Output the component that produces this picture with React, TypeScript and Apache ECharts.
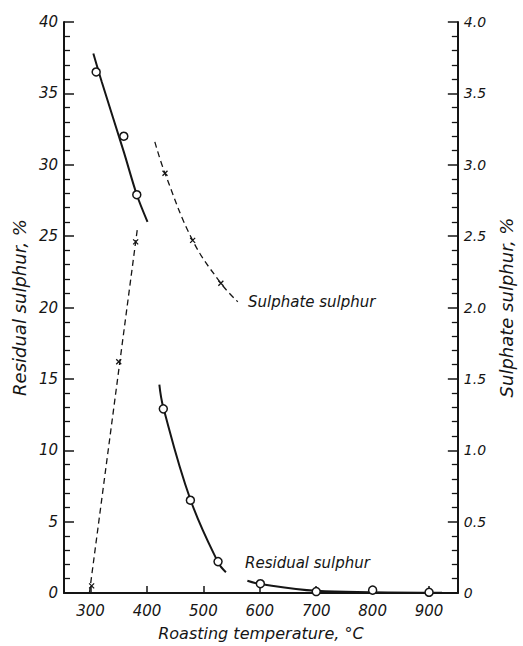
import React, { useEffect, useRef } from "react";
import * as echarts from "echarts";

// Residual sulphur (left axis, %) — fitted curves and measured points
const residualCurve1: number[][] = [[305, 37.8], [320, 35.8], [359, 30.9], [382, 27.9], [401, 26.0]];
const residualCurve2: number[][] = [[422, 14.6], [429, 13.0], [477, 6.55], [526, 2.15], [540, 1.45]];
const residualCurve3: number[][] = [[578, 0.86], [601, 0.63], [700, 0.15], [800, 0.05], [923, 0.02]];
const residualPoints: number[][] = [
  [310, 36.5], [359, 32.0], [382, 27.9],
  [429, 12.9], [477, 6.5], [526, 2.2],
  [601, 0.65], [700, 0.1], [800, 0.2], [900, 0.05],
];

// Sulphate sulphur (right axis, %)
const sulphateCurve1: number[][] = [[298, 0], [383, 2.55]];
const sulphateCurve2: number[][] = [[414, 3.16], [432, 2.94], [481, 2.47], [531, 2.17], [561, 2.04]];
const sulphatePoints: number[][] = [
  [302, 0.05], [350, 1.62], [380, 2.46],
  [432, 2.94], [481, 2.47], [531, 2.17],
];

const xTicks = [300, 400, 500, 600, 700, 800, 900];

const FONT = "DejaVu Sans";
const INK = "#151515";
const TICK = INK;

export default function App() {
  const ref = useRef<HTMLDivElement>(null);
  useEffect(() => {
    if (!ref.current) return;
    const chart = echarts.init(ref.current, null, { renderer: "svg" });
    const solid = { color: INK, width: 2 };
    const dashed = { color: INK, width: 1.3, type: [6, 4] as any };
    const lineSeries = (data: number[][], y: number, ls: any, smooth: boolean | number) => ({
      type: "line",
      data,
      yAxisIndex: y,
      smooth,
      showSymbol: false,
      symbol: "none",
      lineStyle: ls,
      silent: true,
      z: 2,
    });
    const yTick = () => ({ show: true, inside: true, length: 10, lineStyle: { color: TICK, width: 1.5 } });
    const yMinor = () => ({ show: true, splitNumber: 5, length: 6, lineStyle: { color: TICK, width: 1.3 } });
    chart.setOption({
      animation: false,
      backgroundColor: "#ffffff",
      grid: { left: 64, right: 58, top: 22, bottom: 51 },
      xAxis: {
        type: "value",
        min: 253,
        max: 951,
        axisLine: { show: true, lineStyle: { color: INK, width: 2 } },
        axisTick: { show: true, inside: true, length: 7, customValues: xTicks, lineStyle: { color: TICK, width: 1.5 } },
        axisLabel: {
          customValues: xTicks,
          fontFamily: FONT,
          fontStyle: "italic",
          fontSize: 15,
          color: INK,
          margin: 10,
        },
        splitLine: { show: false },
        name: "Roasting temperature, °C",
        nameLocation: "middle",
        nameGap: 32,
        nameTextStyle: { fontFamily: FONT, fontStyle: "italic", fontSize: 16, color: INK },
      },
      yAxis: [
        {
          type: "value",
          position: "left",
          min: 0,
          max: 40,
          interval: 5,
          axisLine: { show: true, lineStyle: { color: INK, width: 2 } },
          axisTick: yTick(),
          minorTick: yMinor(),
          axisLabel: { fontFamily: FONT, fontStyle: "italic", fontSize: 15, color: INK, margin: 6 },
          splitLine: { show: false },
          minorSplitLine: { show: false },
          name: "Residual sulphur, %",
          nameLocation: "middle",
          nameRotate: 90,
          nameGap: 36,
          nameTextStyle: { fontFamily: FONT, fontStyle: "italic", fontSize: 18, color: INK },
        },
        {
          type: "value",
          position: "right",
          min: 0,
          max: 4,
          interval: 0.5,
          axisLine: { show: true, lineStyle: { color: INK, width: 2 } },
          axisTick: yTick(),
          minorTick: yMinor(),
          axisLabel: {
            fontFamily: FONT,
            fontStyle: "italic",
            fontSize: 14,
            color: INK,
            margin: 6,
            formatter: (v: number) => (v === 0 ? "0" : v.toFixed(1)),
          },
          splitLine: { show: false },
          minorSplitLine: { show: false },
          name: "Sulphate sulphur, %",
          nameLocation: "middle",
          nameRotate: 90,
          nameGap: 36,
          nameTextStyle: { fontFamily: FONT, fontStyle: "italic", fontSize: 18, color: INK },
        },
      ],
      series: [
        lineSeries(residualCurve1, 0, solid, 0.3),
        lineSeries(residualCurve2, 0, solid, 0.4),
        lineSeries(residualCurve3, 0, solid, 0.4),
        lineSeries(sulphateCurve1, 1, dashed, false),
        lineSeries(sulphateCurve2, 1, dashed, 0.4),
        {
          type: "scatter",
          data: residualPoints,
          yAxisIndex: 0,
          symbol: "circle",
          symbolSize: 8,
          itemStyle: { color: "#ffffff", borderColor: INK, borderWidth: 1.5, opacity: 1 },
          z: 3,
        },
        {
          type: "scatter",
          data: sulphatePoints,
          yAxisIndex: 1,
          symbol: "path://M0,0L10,10M10,0L0,10",
          symbolSize: 5,
          itemStyle: { color: "transparent", borderColor: INK, borderWidth: 1.3, opacity: 1 },
          z: 3,
        },
      ],
      graphic: [
        {
          type: "text",
          left: 248,
          top: 294,
          style: { text: "Sulphate sulphur", fontFamily: FONT, fontStyle: "italic", fontSize: 15, fill: INK },
        },
        {
          type: "text",
          left: 245,
          top: 555,
          style: { text: "Residual sulphur", fontFamily: FONT, fontStyle: "italic", fontSize: 15, fill: INK },
        },
      ],
    });
    return () => chart.dispose();
  }, []);
  return (
    <div
      ref={ref}
      style={{ position: "fixed", left: 0, top: 0, width: 523, height: 646, background: "#fff" }}
    />
  );
}
